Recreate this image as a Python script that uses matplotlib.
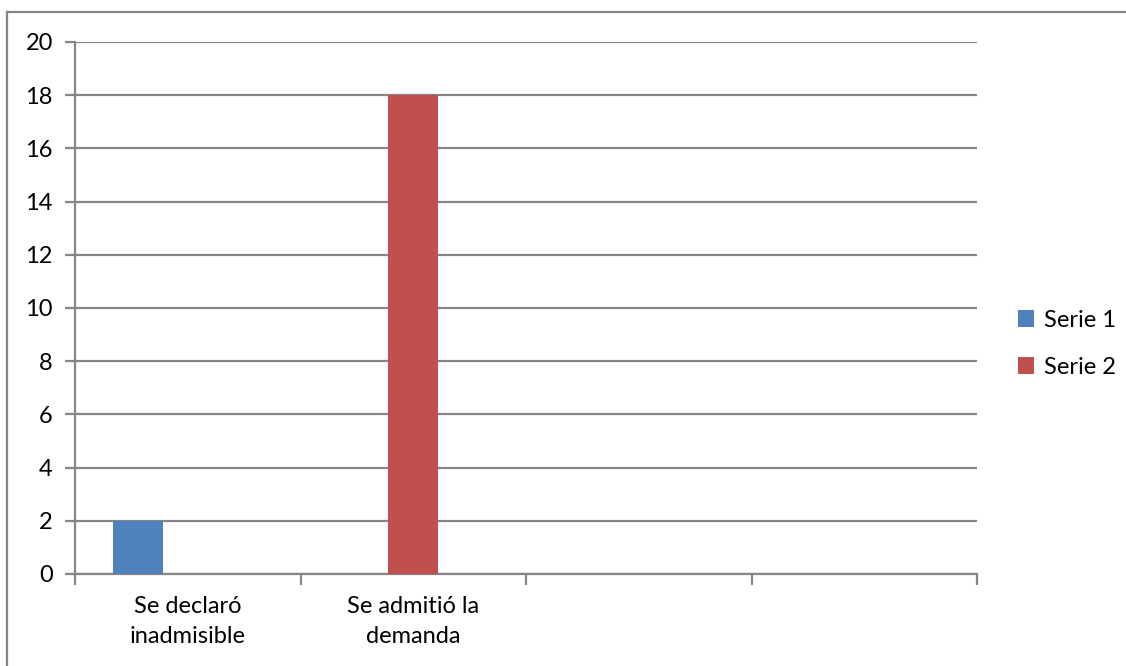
import matplotlib
matplotlib.use("Agg")
import matplotlib.pyplot as plt
import numpy as np
from matplotlib.patches import Patch
from matplotlib.lines import Line2D

categories = ["Se declaró\ninadmisible", "Se admitió la\ndemanda", "", ""]
serie1 = [2, np.nan, np.nan, np.nan]
serie2 = [np.nan, 18, np.nan, np.nan]
serie3 = [np.nan, np.nan, np.nan, np.nan]
series_names = ["Serie 1", "Serie 2"]
yticks = [0, 2, 4, 6, 8, 10, 12, 14, 16, 18, 20]

plt.rcParams['font.family'] = ['Lato', 'DejaVu Sans']

W, H = 1126, 666
fig = plt.figure(figsize=(W / 100, H / 100), dpi=100)
ax = fig.add_axes([75 / W, 1 - 574 / H, (977 - 75) / W, (574 - 42) / H])

grid_c = "#868686"
blue = "#4F81BD"
red = "#C0504D"
fs = 17

x = np.arange(len(categories))
bw = 50 / 226
ax.bar(x - bw, serie1, bw, color=blue, label=series_names[0], zorder=3)
ax.bar(x, serie2, bw, color=red, label=series_names[1], zorder=3)
ax.bar(x + bw, serie3, bw, color="#9BBB59", zorder=3)

ax.set_xlim(-0.5, len(categories) - 0.5)
ax.set_ylim(0, 20)
ax.set_yticks(yticks)
ax.set_yticklabels([str(v) for v in yticks], fontsize=fs)
ax.yaxis.grid(True, color=grid_c, linewidth=1.6, zorder=0)
ax.set_axisbelow(True)

ax.set_xticks(x)
ax.set_xticklabels(categories, fontsize=fs, linespacing=1.5)
ax.set_xticks(np.arange(len(categories) + 1) - 0.5, minor=True)
ax.tick_params(axis='x', which='major', length=0, pad=16)
ax.tick_params(axis='x', which='minor', length=8, width=1.6, color=grid_c, direction='out')
ax.tick_params(axis='y', length=7, width=1.6, color=grid_c, direction='out', pad=9)

for s in ['top', 'right']:
    ax.spines[s].set_visible(False)
for s in ['left', 'bottom']:
    ax.spines[s].set_color(grid_c)
    ax.spines[s].set_linewidth(1.6)

handles = [Patch(facecolor=blue), Patch(facecolor=red)]
fig.legend(handles, series_names, loc='center left',
           bbox_to_anchor=(1001 / W, 1 - 344 / H), frameon=False, fontsize=fs,
           handlelength=0.7, handleheight=0.7, handletextpad=0.4, labelspacing=1.1,
           borderpad=0.2)

# outer chart frame (left and top edges visible)
fig.add_artist(Line2D([7 / W, 7 / W], [0, 1 - 12 / H], transform=fig.transFigure,
                      color=grid_c, linewidth=1.6))
fig.add_artist(Line2D([7 / W, 1], [1 - 12 / H, 1 - 12 / H], transform=fig.transFigure,
                      color=grid_c, linewidth=1.6))

fig.savefig("out.png", dpi=100, facecolor="white")
